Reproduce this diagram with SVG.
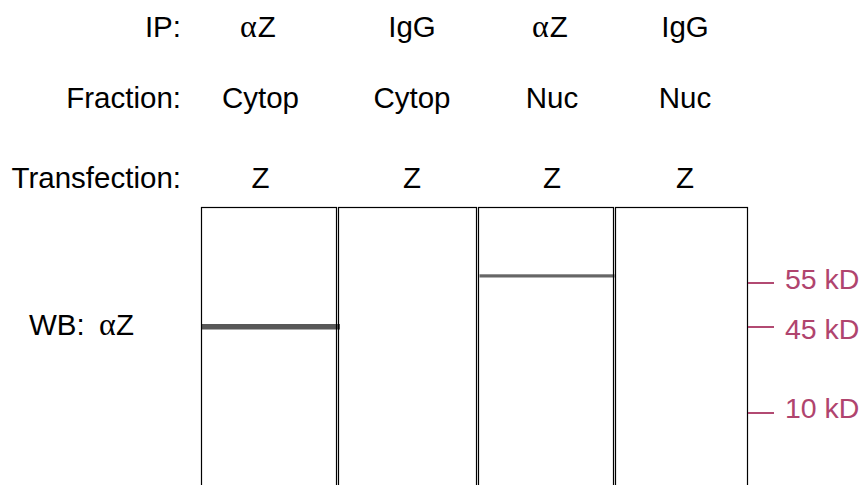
<svg xmlns="http://www.w3.org/2000/svg" width="866" height="485" viewBox="0 0 866 485">
  <style>
    text { font-family: "Liberation Sans", Arial, sans-serif; font-size: 29.5px; fill: #000; }
    .c { text-anchor: middle; }
    .r { text-anchor: end; }
    .greek { font-family: "Liberation Serif", "Times New Roman", serif; font-size: 32px; }
    .lane { fill: none; stroke: #000; stroke-width: 1.2; }
    .mw { fill: #b0446e; font-size: 28.5px; }
    .tick { stroke: #b24a72; stroke-width: 2; }
  </style>
  <rect width="866" height="485" fill="#fff"/>

  <!-- row headers -->
  <g id="headers">
    <text class="r" x="181" y="37">IP:</text>
    <text class="r" x="181" y="108">Fraction:</text>
    <text class="r" x="181" y="188">Transfection:</text>
    <text x="29" y="335">WB:<tspan class="greek" x="99">α</tspan><tspan x="116">Z</tspan></text>
  </g>

  <!-- detected bands (drawn under the lane outlines) -->
  <g id="bands">
    <rect x="201" y="324" width="139" height="5.5" fill="#585858"/>
    <rect x="479.5" y="274.3" width="135" height="3.2" fill="#666"/>
  </g>

  <!-- lane 1 -->
  <g id="lane1">
    <text x="240" y="37"><tspan class="greek">α</tspan><tspan dx="1">Z</tspan></text>
    <text class="c" x="260.5" y="108">Cytop</text>
    <text class="c" x="260.5" y="188">Z</text>
    <rect class="lane" x="201.5" y="207.5" width="135" height="300"/>
  </g>

  <!-- lane 2 -->
  <g id="lane2">
    <text class="c" x="412" y="37">IgG</text>
    <text class="c" x="412" y="108">Cytop</text>
    <text class="c" x="412" y="188">Z</text>
    <rect class="lane" x="338.5" y="207.5" width="138" height="300"/>
  </g>

  <!-- lane 3 -->
  <g id="lane3">
    <text x="532" y="37"><tspan class="greek">α</tspan><tspan dx="1">Z</tspan></text>
    <text class="c" x="552" y="108">Nuc</text>
    <text class="c" x="552" y="188">Z</text>
    <rect class="lane" x="478.5" y="207.5" width="135" height="300"/>
  </g>

  <!-- lane 4 -->
  <g id="lane4">
    <text class="c" x="685" y="37">IgG</text>
    <text class="c" x="685" y="108">Nuc</text>
    <text class="c" x="685" y="188">Z</text>
    <rect class="lane" x="615.5" y="207.5" width="132" height="300"/>
  </g>

  <!-- molecular weight ladder -->
  <g id="ladder">
    <line class="tick" x1="748" y1="283" x2="774" y2="283"/>
    <line class="tick" x1="748" y1="327" x2="774" y2="327"/>
    <line class="tick" x1="748" y1="413" x2="774" y2="413"/>
    <text class="mw" x="785" y="289">55 kD</text>
    <text class="mw" x="785" y="339">45 kD</text>
    <text class="mw" x="785" y="418">10 kD</text>
  </g>
</svg>
